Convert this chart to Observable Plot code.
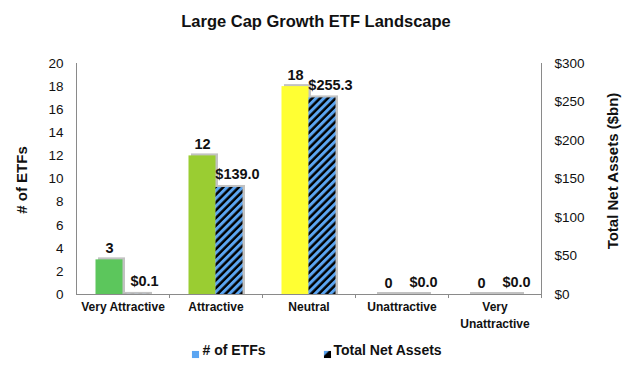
<!DOCTYPE html>
<html>
<head>
<meta charset="utf-8">
<script src="https://cdn.jsdelivr.net/npm/d3@7"></script>
<script src="https://cdn.jsdelivr.net/npm/@observablehq/plot@0.6"></script>
<style>
  html, body { margin: 0; padding: 0; background: #fff; }
</style>
</head>
<body>
<div id="chart"></div>
<script>
const chartTitle = "Large Cap Growth ETF Landscape";
const categories = ["Very Attractive", "Attractive", "Neutral", "Unattractive", "Very Unattractive"];
const etfCounts = [3, 12, 18, 0, 0];
const netAssets = [0.1, 139.0, 255.3, 0.0, 0.0];
const countTicks = [0, 2, 4, 6, 8, 10, 12, 14, 16, 18, 20];
const assetTicks = [0, 50, 100, 150, 200, 250, 300];
const barColors = ["#5cc65c", "#9acd32", "#ffff33", "#c8c8c8", "#c8c8c8"];
const leftTitle = "# of ETFs";
const rightTitle = "Total Net Assets ($bn)";
const legendLabels = ["# of ETFs", "Total Net Assets"];

const ratio = assetTicks[assetTicks.length - 1] / countTicks[countTicks.length - 1];
const data = categories.map((c, i) => ({
  category: c,
  count: etfCounts[i],
  assets: netAssets[i],
  assetsScaled: netAssets[i] / ratio,
  color: barColors[i]
}));

const blue = "#5ba5f2";
const axisGray = "#8a8a8a";
const half = 46.5; // half band width in px (style only)

const plot = Plot.plot({
  width: 630,
  height: 369,
  marginLeft: 76,
  marginRight: 89,
  marginTop: 63,
  marginBottom: 75,
  style: { fontFamily: "'Liberation Sans', Arial, sans-serif", fontSize: "13px", color: "#111", background: "#fff" },
  x: { domain: categories, padding: 0 },
  y: { domain: [0, 20] },
  marks: [
    // shadows
    Plot.barY(data, { x: "category", y: "count", fill: "#c2c2c2", insetLeft: 19.5, insetRight: 46.5, insetTop: -2, dx: 2.5, ariaLabel: "shadow" }),
    Plot.barY(data, { x: "category", y: "assetsScaled", fill: "#c2c2c2", insetLeft: 46.5, insetRight: 19.5, insetTop: -2, dx: 2.5, ariaLabel: "shadow" }),
    // bars
    Plot.barY(data, { x: "category", y: "count", fill: d => d.color, insetLeft: 19.5, insetRight: 46.5 }),
    Plot.barY(data, { x: "category", y: "assetsScaled", fill: "url(#hatch)", insetLeft: 46.5, insetRight: 19.5 }),
    // axis lines
    Plot.ruleY([0], { stroke: axisGray }),
    Plot.ruleX([categories[0]], { dx: -half, y1: 0, y2: 20, stroke: axisGray }),
    Plot.ruleX([categories[categories.length - 1]], { dx: half, y1: -0.35, y2: 20, stroke: axisGray }),
    Plot.ruleX(categories.slice(1), { dx: -half, y1: 0, y2: -0.35, stroke: axisGray }),
    // axes
    Plot.axisY(countTicks, { anchor: "left", tickSize: 0, tickPadding: 13, label: null, fontSize: 13.5 }),
    Plot.axisY(assetTicks.map(v => v / ratio), { anchor: "right", tickSize: 0, tickPadding: 13, label: null, fontSize: 13.5, tickFormat: d => "$" + Math.round(d * ratio) }),
    Plot.axisX({ tickSize: 0, tickPadding: 5, label: null, fontSize: 12, fontWeight: "bold", lineHeight: 1.4,
      tickFormat: d => d === "Very Unattractive" ? "Very\nUnattractive" : d }),
    // value labels
    Plot.text(data, { x: "category", y: "count", text: d => String(d.count), dx: -13.5, dy: -7, lineAnchor: "bottom", fontSize: 14.5, fontWeight: "bold" }),
    Plot.text(data, { x: "category", y: "assetsScaled", text: d => "$" + d.assets.toFixed(1), dx: 21.5, dy: -8, lineAnchor: "bottom", fontSize: 14.5, fontWeight: "bold" }),
    // titles
    Plot.text([chartTitle], { frameAnchor: "top", text: d => d, dx: 7, dy: -37, lineAnchor: "bottom", fontSize: 16.5, fontWeight: "bold" }),
    Plot.text([leftTitle], { frameAnchor: "left", text: d => d, textAnchor: "middle", rotate: -90, dx: -54, dy: 1, fontSize: 15, fontWeight: "bold" }),
    Plot.text([rightTitle], { frameAnchor: "right", text: d => d, textAnchor: "middle", rotate: -90, dx: 72, dy: -8, fontSize: 15, fontWeight: "bold" }),
    // legend
    Plot.dot([legendLabels[0]], { frameAnchor: "bottom-left", symbol: "square", r: 4, fill: blue, dx: 195 - 76, dy: 60 }),
    Plot.text([legendLabels[0]], { frameAnchor: "bottom-left", text: d => d, textAnchor: "start", dx: 202 - 76, dy: 60, fontSize: 14, fontWeight: "bold" }),
    Plot.dot([legendLabels[1]], { frameAnchor: "bottom-left", symbol: "square", r: 4, fill: "url(#hatchLegend)", dx: 327 - 76, dy: 60 }),
    Plot.text([legendLabels[1]], { frameAnchor: "bottom-left", text: d => d, textAnchor: "start", dx: 333 - 76, dy: 60, fontSize: 14, fontWeight: "bold" })
  ]
});

// hatch pattern definitions
const ns = "http://www.w3.org/2000/svg";
const defs = document.createElementNS(ns, "defs");
defs.innerHTML = `
  <pattern id="hatch" patternUnits="userSpaceOnUse" width="5.5" height="5.5" patternTransform="rotate(45)">
    <rect width="5.5" height="5.5" fill="#000"/>
    <rect width="3" height="5.5" fill="${blue}"/>
  </pattern>
  <pattern id="hatchLegend" patternUnits="objectBoundingBox" patternContentUnits="objectBoundingBox" width="1" height="1">
    <rect width="1" height="1" fill="#000"/>
    <path d="M0,0 L0.7,0 L0,0.7 Z" fill="${blue}"/>
  </pattern>
  <filter id="soft" x="-20%" y="-20%" width="140%" height="140%">
    <feGaussianBlur stdDeviation="1.1"/>
  </filter>`;
plot.insertBefore(defs, plot.firstChild);
plot.querySelectorAll('g[aria-label="shadow"]').forEach(g => g.setAttribute("filter", "url(#soft)"));

document.getElementById("chart").appendChild(plot);
</script>
</body>
</html>
